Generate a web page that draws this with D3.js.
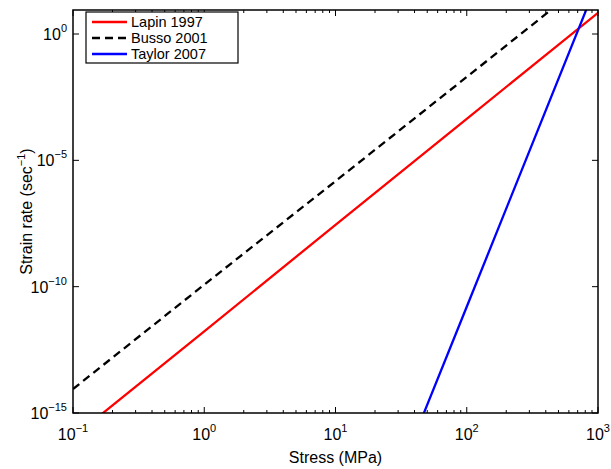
<!DOCTYPE html>
<html>
<head>
<meta charset="utf-8">
<script src="https://cdn.jsdelivr.net/npm/d3@7"></script>
<style>
  body { margin: 0; background: #fff; }
  text { font-family: "Liberation Sans", Arial, sans-serif; fill: #000; }
</style>
</head>
<body>
<svg id="chart"></svg>
<script>
// data (log-log, straight lines)
const lapinStress = [0.1, 1, 10, 100, 1000];
const lapinRate = [1.1e-16, 1.7e-12, 2.8e-8, 4.4e-4, 6.9];
const bussoStress = [0.1, 1, 10, 100, 1000];
const bussoRate = [8.9e-15, 1.2e-10, 1.5e-6, 2.0e-2, 270];
const taylorStress = [40, 100, 1000];
const taylorRate = [1.2e-16, 1.6e-11, 130];

const xTicks = [0.1, 1, 10, 100, 1000];
const yTicks = [1e-15, 1e-10, 1e-5, 1];
const xTickExp = ["−1", "0", "1", "2", "3"];
const yTickExp = ["−15", "−10", "−5", "0"];

const series = [
  { name: "Lapin 1997", xs: lapinStress, ys: lapinRate, color: "#ff0000", dash: null },
  { name: "Busso 2001", xs: bussoStress, ys: bussoRate, color: "#000000", dash: "8,5" },
  { name: "Taylor 2007", xs: taylorStress, ys: taylorRate, color: "#0000ff", dash: null }
];

const width = 611, height = 469;
const margin = { top: 10, left: 73, bottom: 56, right: 13 };
const iwidth = width - margin.left - margin.right;
const iheight = height - margin.top - margin.bottom;

const svg = d3.select("#chart").attr("width", width).attr("height", height);
const g = svg.append("g").attr("transform", `translate(${margin.left},${margin.top})`);

const x = d3.scaleLog().domain([0.1, 1000]).range([0, iwidth]);
const y = d3.scaleLog().domain([1e-15, Math.pow(10, 0.95)]).range([iheight, 0]);

g.append("clipPath").attr("id", "clip")
  .append("rect").attr("width", iwidth).attr("height", iheight);

// minor ticks on x (2..9 per decade)
const minorX = [];
for (let e = -1; e < 3; e++) for (let m = 2; m <= 9; m++) minorX.push(m * Math.pow(10, e));

const line = d3.line().x(d => x(d[0])).y(d => y(d[1]));

const plot = g.append("g").attr("clip-path", "url(#clip)");
series.forEach(s => {
  plot.append("path")
    .datum(s.xs.map((v, i) => [v, s.ys[i]]))
    .attr("d", line)
    .attr("fill", "none")
    .attr("stroke", s.color)
    .attr("stroke-width", 2.3)
    .attr("stroke-dasharray", s.dash);
});

// ticks (inward, all four sides)
const tk = g.append("g").attr("stroke", "#000").attr("stroke-width", 1);
xTicks.forEach(t => {
  tk.append("line").attr("x1", x(t)).attr("x2", x(t)).attr("y1", iheight).attr("y2", iheight - 6);
  tk.append("line").attr("x1", x(t)).attr("x2", x(t)).attr("y1", 0).attr("y2", 6);
});
minorX.forEach(t => {
  tk.append("line").attr("x1", x(t)).attr("x2", x(t)).attr("y1", iheight).attr("y2", iheight - 3);
  tk.append("line").attr("x1", x(t)).attr("x2", x(t)).attr("y1", 0).attr("y2", 3);
});
yTicks.forEach(t => {
  tk.append("line").attr("x1", 0).attr("x2", 6).attr("y1", y(t)).attr("y2", y(t));
  tk.append("line").attr("x1", iwidth).attr("x2", iwidth - 6).attr("y1", y(t)).attr("y2", y(t));
});

g.append("rect").attr("width", iwidth).attr("height", iheight)
  .attr("fill", "none").attr("stroke", "#000").attr("stroke-width", 1.5);

// tick labels
xTicks.forEach((t, i) => {
  const tx = g.append("text").attr("x", x(t)).attr("y", iheight + 27)
    .attr("text-anchor", "middle").attr("font-size", 16);
  tx.append("tspan").text("10");
  tx.append("tspan").attr("dy", -8).attr("font-size", 11).text(xTickExp[i]);
});
yTicks.forEach((t, i) => {
  const tx = g.append("text").attr("x", -6).attr("y", y(t) + 6)
    .attr("text-anchor", "end").attr("font-size", 16);
  tx.append("tspan").text("10");
  tx.append("tspan").attr("dy", -8).attr("font-size", 11).text(yTickExp[i]);
});

// axis labels
svg.append("text").attr("x", margin.left + iwidth / 2).attr("y", 463)
  .attr("text-anchor", "middle").attr("font-size", 16).text("Stress (MPa)");
const yl = svg.append("text")
  .attr("transform", `translate(32,${margin.top + iheight / 2}) rotate(-90)`)
  .attr("text-anchor", "middle").attr("font-size", 16);
yl.append("tspan").text("Strain rate (sec");
yl.append("tspan").attr("dy", -7).attr("font-size", 11).text("−1");
yl.append("tspan").attr("dy", 7).text(")");

// legend
const lg = g.append("g").attr("transform", "translate(13,2)");
lg.append("rect").attr("width", 152).attr("height", 51)
  .attr("fill", "#fff").attr("stroke", "#000").attr("stroke-width", 1.2);
series.forEach((s, i) => {
  const ly = 10 + i * 16;
  lg.append("line").attr("x1", 6).attr("x2", 41).attr("y1", ly).attr("y2", ly)
    .attr("stroke", s.color).attr("stroke-width", 2.3).attr("stroke-dasharray", s.dash);
  lg.append("text").attr("x", 45).attr("y", ly + 5).attr("font-size", 14.5).text(s.name);
});
</script>
</body>
</html>
